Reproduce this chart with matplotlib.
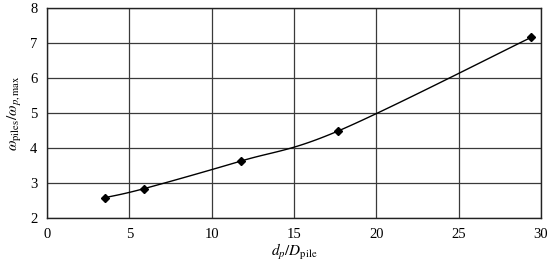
import numpy as np
import matplotlib
matplotlib.use('Agg')
import matplotlib.pyplot as plt

plt.rcParams['font.family'] = ['Liberation Serif', 'DejaVu Serif']
plt.rcParams['mathtext.fontset'] = 'stix'

# data
dp_ratio = [3.5, 5.9, 11.8, 17.7, 29.4]
omega_ratio = [2.58, 2.84, 3.63, 4.49, 7.16]


# smooth line like excel (catmull-rom through the points)
def smooth(x, y, n=30):
    p = np.column_stack([x, y]).astype(float)
    p = np.vstack([p[0], p, p[-1]])
    out = []
    for i in range(1, len(p) - 2):
        p0, p1, p2, p3 = p[i - 1], p[i], p[i + 1], p[i + 2]
        t = np.linspace(0, 1, n)[:, None]
        c = 0.5 * ((2 * p1) + (-p0 + p2) * t + (2 * p0 - 5 * p1 + 4 * p2 - p3) * t ** 2
                   + (-p0 + 3 * p1 - 3 * p2 + p3) * t ** 3)
        out.append(c)
    out = np.vstack(out)
    return out[:, 0], out[:, 1]


fig = plt.figure(figsize=(5.5, 2.68), dpi=100)
ax = fig.add_axes([0.0855, 0.1866, 0.898, 0.7834])

sx, sy = smooth(dp_ratio, omega_ratio)
ax.plot(sx, sy, color='black', lw=1.0, zorder=3)
ax.plot(dp_ratio, omega_ratio, 'D', color='black', ms=4.5, zorder=4)

ax.set_xlim(0, 30)
ax.set_ylim(2, 8)
ax.set_xticks(range(0, 31, 5))
ax.set_yticks(range(2, 9))
ax.grid(True, color='#3a3a3a', lw=0.9)
for s in ax.spines.values():
    s.set_color('#222222')
    s.set_linewidth(1.0)
ax.tick_params(length=0, labelsize=10.5, pad=7)

ax.set_xlabel(r'$d_p/D_{\rm pile}$', fontsize=11, labelpad=1)
ax.set_ylabel(r'$\omega_{\rm piles}/\omega_{p,\rm max}$', fontsize=11, labelpad=4)

fig.savefig('out.png', dpi=100)
